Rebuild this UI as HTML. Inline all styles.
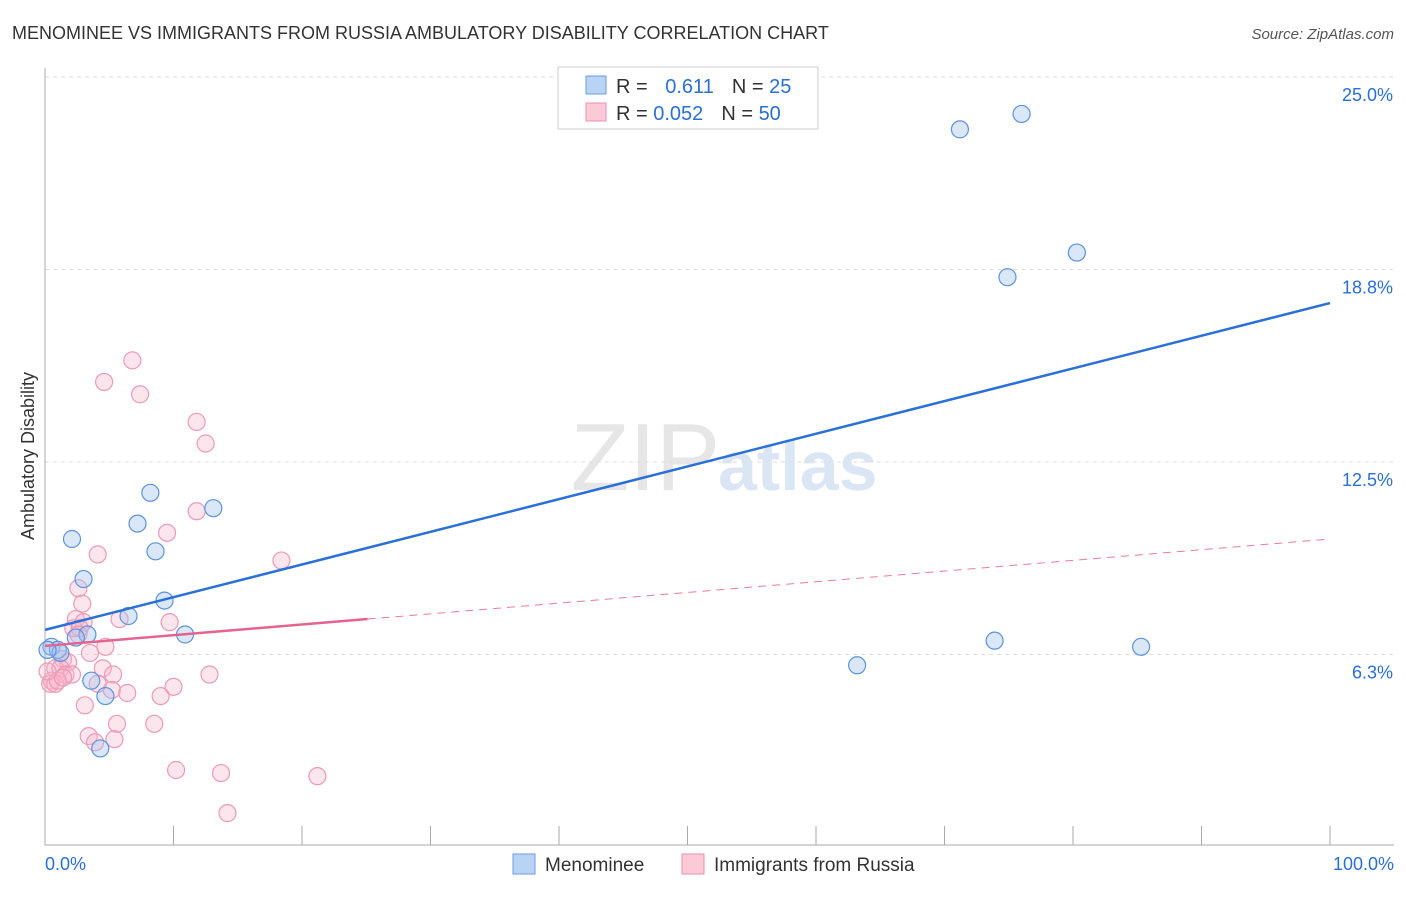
<!DOCTYPE html>
<html><head><meta charset="utf-8"><style>
body{margin:0;background:#fff;font-family:"Liberation Sans",sans-serif}
svg text{font-family:"Liberation Sans",sans-serif}
</style></head><body>
<svg id="c" width="1406" height="892" xmlns="http://www.w3.org/2000/svg">
<text x="12" y="39" font-size="18" fill="#333">MENOMINEE VS IMMIGRANTS FROM RUSSIA AMBULATORY DISABILITY CORRELATION CHART</text>
<text x="1394" y="39" font-size="15" fill="#555" font-style="italic" text-anchor="end">Source: ZipAtlas.com</text>
<text x="720" y="490" font-size="96" fill="#e6e6e6" font-family="Liberation Serif" text-anchor="end">ZIP</text>
<text x="718" y="490" font-size="70" fill="#dbe6f5" font-weight="bold">atlas</text>
<text transform="translate(34,456) rotate(-90)" font-size="18" fill="#333" text-anchor="middle">Ambulatory Disability</text>
<g id="grid"></g><g id="marks"></g>
<g>
<rect x="558" y="67" width="260" height="62" fill="#fff" stroke="#ccc"/>
<rect x="586" y="76" width="20" height="18" fill="#b9d3f5" stroke="#6a9be0"/>
<rect x="586" y="103" width="20" height="18" fill="#fcc9d8" stroke="#ea8fae"/>
<text x="616" y="93" font-size="20" fill="#333">R = <tspan fill="#2a6fd6" dx="12">0.611</tspan><tspan fill="#333" dx="18">N = </tspan><tspan fill="#2a6fd6">25</tspan></text>
<text x="616" y="120" font-size="20" fill="#333">R = <tspan fill="#2a6fd6">0.052</tspan><tspan fill="#333" dx="18">N = </tspan><tspan fill="#2a6fd6">50</tspan></text>
</g>
<g>
<rect x="513" y="854" width="22" height="20" fill="#b9d3f5" stroke="#6a9be0"/>
<text x="545" y="871" font-size="19" fill="#333">Menominee</text>
<rect x="682" y="854" width="22" height="20" fill="#fcc9d8" stroke="#ea8fae"/>
<text x="714" y="871" font-size="19" fill="#333">Immigrants from Russia</text>
</g>
</svg>
<script>
const yTicks=[6.25,12.5,18.75,25];
const yTickLabels=["6.3%","12.5%","18.8%","25.0%"];
const blueX=[71.2,76.0,74.9,80.3,63.2,73.9,85.3,8.2,7.2,13.1,2.1,8.6,3.0,9.3,6.5,10.9,3.3,2.4,0.5,1.0,1.2,0.2,3.6,4.7,4.3];
const blueY=[23.3,23.8,18.5,19.3,5.9,6.7,6.5,11.5,10.5,11.0,10.0,9.6,8.7,8.0,7.5,6.9,6.9,6.8,6.5,6.4,6.3,6.4,5.4,4.9,3.2];
const pinkX=[6.8,4.6,7.4,11.8,12.5,11.8,9.5,4.1,18.4,2.6,2.9,2.4,3.0,5.8,9.7,2.2,2.7,2.6,3.5,4.7,1.4,1.8,0.8,1.2,1.6,2.1,0.5,0.4,0.8,1.0,1.4,4.5,5.3,12.8,10.0,5.2,6.4,4.1,9.0,3.1,5.6,8.5,5.4,3.4,3.9,10.2,13.7,21.2,14.2,0.2];
const pinkY=[15.8,15.1,14.7,13.8,13.1,10.9,10.2,9.5,9.3,8.4,7.9,7.4,7.3,7.4,7.3,7.1,7.1,6.9,6.3,6.5,6.1,6.0,5.8,5.8,5.6,5.6,5.4,5.3,5.3,5.4,5.5,5.8,5.6,5.6,5.2,5.1,5.0,5.3,4.9,4.6,4.0,4.0,3.5,3.6,3.4,2.5,2.4,2.3,1.1,5.7];
const blueTrend=[7.05,17.66];
const pinkTrend=[6.53,10.0];
const pinkSolidEnd=25.1;
const NS="http://www.w3.org/2000/svg";
const X=v=>45+v*12.85, Y=v=>847-v*30.8;
function mk(t,a,p){const e=document.createElementNS(NS,t);for(const k in a)e.setAttribute(k,a[k]);p.appendChild(e);return e;}
const grid=document.getElementById('grid'),marks=document.getElementById('marks');
yTicks.forEach((t,i)=>{
 const l=mk('line',{x1:45,x2:1394,y1:Y(t),y2:Y(t),stroke:'#ddd','stroke-dasharray':'4,4'},grid);
 
 
 const tx=mk('text',{x:1393,y:Y(t)+24,'font-size':18,fill:'#2a6fd6','text-anchor':'end'},grid);
 tx.textContent=yTickLabels[i];
 
 
});
let ax=mk('line',{x1:45,x2:45,y1:68,y2:845,stroke:'#aaa'},grid);


let bx=mk('line',{x1:45,x2:1394,y1:845,y2:845,stroke:'#aaa'},grid);


for(let i=0;i<=10;i++){const t=mk('line',{x1:X(i*10),x2:X(i*10),y1:826,y2:845,stroke:'#aaa'},grid);
 
 }
[["0.0%",45,'start'],["100.0%",1394,'end']].forEach(d=>{const t=mk('text',{x:d[1],y:870,'font-size':18,fill:'#2a6fd6','text-anchor':d[2]},grid);t.textContent=d[0];
 
 });
pinkX.forEach((x,i)=>{const c=mk('circle',{cx:X(x),cy:Y(pinkY[i]),r:8.5,fill:'rgba(248,180,202,0.35)',stroke:'#eb9ab5','stroke-width':1.2},marks);
 
 });
blueX.forEach((x,i)=>{const c=mk('circle',{cx:X(x),cy:Y(blueY[i]),r:8.5,fill:'rgba(160,196,240,0.4)',stroke:'#5d92dc','stroke-width':1.2},marks);
 
 });
const pAt=x=>pinkTrend[0]+(pinkTrend[1]-pinkTrend[0])*x/100;
let l1=mk('line',{x1:X(pinkSolidEnd),y1:Y(pAt(pinkSolidEnd)),x2:X(100),y2:Y(pinkTrend[1]),stroke:'#e87aa0','stroke-width':1,'stroke-dasharray':'8,6'},marks);


let l2=mk('line',{x1:X(0),y1:Y(pinkTrend[0]),x2:X(pinkSolidEnd),y2:Y(pAt(pinkSolidEnd)),stroke:'#e5648f','stroke-width':2.5},marks);


let l3=mk('line',{x1:X(0),y1:Y(blueTrend[0]),x2:X(100),y2:Y(blueTrend[1]),stroke:'#2a70d8','stroke-width':2.5},marks);


</script>
</body></html>
